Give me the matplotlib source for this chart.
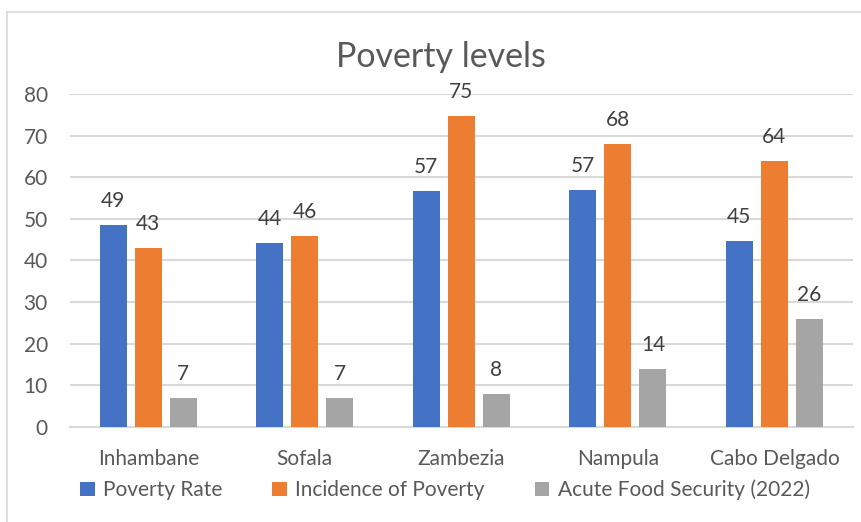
import matplotlib.pyplot as plt
import numpy as np
from matplotlib.patches import Patch
from matplotlib.lines import Line2D

# Data
provinces = ['Inhambane', 'Sofala', 'Zambezia', 'Nampula', 'Cabo Delgado']
poverty_rate = [48.6, 44.1, 56.6, 56.9, 44.7]
incidence = [42.9, 45.9, 74.7, 67.9, 63.9]
food_security = [6.9, 6.9, 7.9, 13.9, 25.9]
series_names = ['Poverty Rate', 'Incidence of Poverty', 'Acute Food Security (2022)']
colors = ['#4472C4', '#ED7D31', '#A5A5A5']
yticks = [0, 10, 20, 30, 40, 50, 60, 70, 80]

W, H = 861, 522
plt.rcParams['font.family'] = ['Lato', 'DejaVu Sans']
text_color = '#595959'
grid_color = '#D9D9D9'
fs = 15

fig = plt.figure(figsize=(W / 100, H / 100), dpi=100)
ax = fig.add_axes([70 / W, 1 - 426.7 / H, 782.7 / W, 332.7 / H])

x = np.arange(len(provinces))
bar_w = 0.172
step = 0.224
for j, (vals, name, col) in enumerate(zip([poverty_rate, incidence, food_security], series_names, colors)):
    pos = x + (j - 1) * step
    ax.bar(pos, vals, width=bar_w, color=col, label=name, zorder=3)
    for px, v in zip(pos, vals):
        ax.annotate(f'{round(v):d}', (px, v), xytext=(0, 18), textcoords='offset pixels',
                    ha='center', va='baseline', fontsize=fs, color='#404040')

ax.set_xlim(-0.5, len(provinces) - 0.5)
ax.set_ylim(0, 80)
ax.set_yticks(yticks)
ax.set_xticks(x)
ax.set_xticklabels(provinces)
ax.tick_params(axis='both', length=0, labelsize=fs, labelcolor=text_color)
ax.tick_params(axis='y', pad=16)
ax.tick_params(axis='x', pad=16)
ax.grid(axis='y', color=grid_color, linewidth=1.5, zorder=0)
for s in ['top', 'right', 'left']:
    ax.spines[s].set_visible(False)
ax.spines['bottom'].set_color(grid_color)
ax.spines['bottom'].set_linewidth(1.5)

fig.text(441 / W, 1 - 57 / H, 'Poverty levels', ha='center', va='center',
         fontsize=24.5, color=text_color)

handles = [Patch(facecolor=c) for c in colors]
fig.legend(handles, series_names, loc='center', bbox_to_anchor=(445 / W, 1 - 490 / H),
           ncol=3, frameon=False, fontsize=fs, labelcolor=text_color,
           handlelength=0.7, handleheight=0.7, handletextpad=0.4, columnspacing=2.4)

# chart border
fig.add_artist(Line2D([7 / W, 7 / W], [0, 1 - 12 / H], color=grid_color, linewidth=1.2))
fig.add_artist(Line2D([7 / W, 1], [1 - 12 / H, 1 - 12 / H], color=grid_color, linewidth=1.2))

fig.savefig('out.png', dpi=100)
